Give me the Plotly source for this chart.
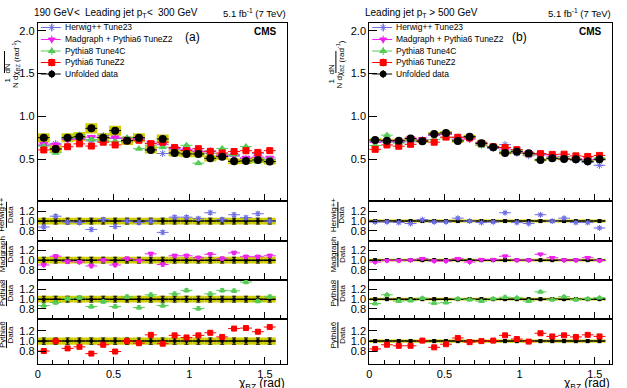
import numpy as np
import plotly.graph_objects as go

W, H = 627, 388

# ---------------- data ----------------
chi_edges = np.linspace(0, np.pi / 2, 21)
chi_centers = 0.5 * (chi_edges[1:] + chi_edges[:-1])
chi_halfwidth = 0.5 * (chi_edges[1] - chi_edges[0])

# (a) 190 GeV < leading jet pT < 300 GeV
data_a = [0.752, 0.620, 0.752, 0.764, 0.861, 0.752, 0.834, 0.717, 0.752, 0.609,
          0.737, 0.574, 0.562, 0.562, 0.511, 0.531, 0.476, 0.480, 0.492, 0.473]
data_a_syst_rel = [0.07, 0.07, 0.07, 0.07, 0.07, 0.07, 0.07, 0.07, 0.07, 0.07,
                   0.07, 0.07, 0.07, 0.07, 0.07, 0.07, 0.07, 0.07, 0.07, 0.07]
data_a_stat_rel = [0.06, 0.06, 0.06, 0.06, 0.06, 0.06, 0.06, 0.06, 0.06, 0.06,
                   0.06, 0.06, 0.06, 0.06, 0.06, 0.06, 0.06, 0.06, 0.06, 0.06]
herwig_a = [0.88, 1.10, 0.98, 0.97, 0.83, 1.03, 0.89, 1.00, 0.97, 1.00,
            0.77, 1.08, 1.08, 1.05, 1.17, 1.03, 1.13, 1.07, 1.15, 1.00]
madgraph_a = [0.90, 1.08, 0.97, 0.96, 0.88, 1.00, 0.90, 1.03, 0.99, 1.13,
              0.91, 1.09, 1.09, 1.05, 1.12, 1.03, 1.15, 1.07, 1.07, 1.09]
pythia8_a = [0.87, 0.93, 1.01, 1.03, 0.85, 0.95, 0.85, 1.05, 0.83, 1.09,
             0.87, 1.11, 1.18, 0.81, 1.11, 1.18, 1.17, 1.35, 0.96, 1.05]
pythia6_a = [0.81, 1.00, 0.86, 0.89, 0.76, 0.93, 0.80, 1.00, 0.96, 1.12,
             0.95, 1.11, 1.07, 1.11, 1.16, 1.08, 1.24, 1.25, 1.18, 1.27]
mc_a_err_rel = [0.035, 0.035, 0.035, 0.035, 0.035, 0.035, 0.035, 0.035, 0.035, 0.035,
                0.035, 0.035, 0.035, 0.035, 0.035, 0.035, 0.035, 0.035, 0.035, 0.035]

# (b) leading jet pT > 500 GeV
data_b = [0.725, 0.717, 0.717, 0.741, 0.710, 0.795, 0.807, 0.714, 0.764, 0.686,
          0.640, 0.574, 0.589, 0.570, 0.492, 0.511, 0.504, 0.500, 0.476, 0.500]
data_b_syst_rel = [0.03, 0.03, 0.03, 0.03, 0.03, 0.03, 0.03, 0.03, 0.03, 0.03,
                   0.03, 0.03, 0.03, 0.03, 0.03, 0.03, 0.03, 0.03, 0.03, 0.03]
data_b_stat_rel = [0.03, 0.03, 0.03, 0.03, 0.03, 0.03, 0.03, 0.03, 0.03, 0.03,
                   0.03, 0.03, 0.03, 0.03, 0.03, 0.03, 0.03, 0.03, 0.03, 0.03]
herwig_b = [0.98, 0.98, 0.97, 0.95, 1.03, 0.98, 0.98, 1.06, 1.00, 0.97,
            0.98, 1.17, 0.97, 0.95, 1.13, 1.00, 1.06, 0.97, 0.97, 0.86]
madgraph_b = [0.96, 0.99, 0.99, 1.00, 1.03, 0.98, 0.98, 1.03, 0.96, 1.01,
              1.01, 1.08, 1.00, 1.00, 1.12, 1.05, 1.00, 1.00, 1.05, 0.99]
pythia8_b = [0.91, 1.09, 0.96, 0.97, 1.02, 0.92, 0.93, 1.01, 0.99, 0.96,
             1.01, 1.04, 1.03, 0.96, 1.15, 0.99, 1.05, 0.99, 1.01, 1.03]
pythia6_b = [0.85, 0.93, 0.91, 0.91, 1.01, 0.88, 0.94, 1.06, 0.98, 1.00,
             1.01, 1.11, 1.04, 0.99, 1.15, 1.09, 1.11, 1.08, 1.12, 1.09]
mc_b_err_rel = [0.025, 0.025, 0.025, 0.025, 0.025, 0.025, 0.025, 0.025, 0.025, 0.025,
                0.025, 0.025, 0.025, 0.025, 0.025, 0.025, 0.025, 0.025, 0.025, 0.025]

mc_names = ["Herwig++ Tune23", "Madgraph + Pythia6 TuneZ2", "Pythia8 Tune4C", "Pythia6 TuneZ2"]
ratio_labels = [("Herwig++", "Data"), ("Madgraph", "Data"), ("Pythia8", "Data"), ("Pythia6", "Data")]
main_y_ticks = [0.5, 1.0, 1.5, 2.0]
ratio_y_ticks = [0.8, 1.0, 1.2]

# header pieces: (text, x pixel, anchor)
header_a = [("190 GeV", 29, "left"), ("&lt;", 74.5, "center"),
            ("Leading jet p<sub>T</sub>", 80, "left"), ("&lt;", 147.5, "center"),
            ("300 GeV", 153.5, "left")]
header_b = [("Leading jet p<sub>T</sub> &gt; 500 GeV", 362, "left")]

# ---------------- styles ----------------
FONT = "Liberation Sans, Arial, sans-serif"
YELLOW = "#cccc00"
mc_styles = [
    dict(color="#6f6fe6", symbol="asterisk-open", size=6, rsize=5, lsize=6),
    dict(color="#ee22ee", symbol="triangle-down", size=7, rsize=5, lsize=6),
    dict(color="#55cc55", symbol="triangle-up", size=6, rsize=5, lsize=6),
    dict(color="#ff0000", symbol="square", size=6, rsize=5, lsize=6),
]
data_style = dict(color="black", symbol="circle", size=8, rsize=4, lsize=6)


def marker_of(st, size):
    return dict(symbol=st["symbol"], size=size, color=st["color"],
                line=dict(width=1, color=st["color"]))


def xp(px):
    return px / W


def yp(py):
    return 1 - py / H


def ax_id(n):
    return "" if n == 1 else str(n)


panels = [
    dict(x0=35, x1=285, xr=[0, 1.643], data=data_a, syst=data_a_syst_rel, stat=data_a_stat_rel,
         mcs=[herwig_a, madgraph_a, pythia8_a, pythia6_a], mcerr=mc_a_err_rel,
         header=header_a, tag="(a)"),
    dict(x0=368, x1=612, xr=[0, 1.615], data=data_b, syst=data_b_syst_rel, stat=data_b_stat_rel,
         mcs=[herwig_b, madgraph_b, pythia8_b, pythia6_b], mcerr=mc_b_err_rel,
         header=header_b, tag="(b)"),
]
rows = [(22.7, 201.0), (201.0, 240.7), (240.7, 279.6), (279.6, 318.7), (318.7, 363.5)]
row_ranges = [[0.0135, 2.093], [0.6, 1.41], [0.6, 1.40], [0.6, 1.40], [0.57, 1.43]]

fig = go.Figure()
layout = dict(width=W, height=H, margin=dict(l=0, r=0, t=0, b=0),
              paper_bgcolor="white", plot_bgcolor="rgba(0,0,0,0)", showlegend=False,
              barmode="overlay", font=dict(family=FONT, size=11, color="black"))
annotations = []
shapes = []

n = 0
for p in panels:
    data = np.array(p["data"])
    for k, (top, bot) in enumerate(rows):
        n += 1
        sid = ax_id(n)
        xa, ya = "x" + sid, "y" + sid
        last = k == 4
        layout["xaxis" + sid] = dict(
            domain=[xp(p["x0"]), xp(p["x1"])], range=p["xr"], anchor=ya,
            showline=True, mirror=True, linecolor="black", linewidth=1,
            tickmode="linear", tick0=0, dtick=0.5,
            ticks="inside", ticklen=7, tickcolor="black", tickwidth=1,
            showticklabels=last, showgrid=False, zeroline=False,
            tickfont=dict(size=11),
            minor=dict(ticks="inside", ticklen=3.5, dtick=0.1, tickcolor="black", showgrid=False),
        )
        layout["yaxis" + sid] = dict(
            domain=[yp(bot), yp(top)], range=row_ranges[k], anchor=xa,
            showline=True, mirror=True, linecolor="black", linewidth=1,
            ticks="inside", ticklen=8, tickcolor="black", tickwidth=1,
            tickmode="array", tickvals=main_y_ticks if k == 0 else ratio_y_ticks, tickformat=".1f",
            showgrid=False, zeroline=False, tickfont=dict(size=11),
        )
        syst = np.array(p["syst"])
        stat = np.array(p["stat"])
        if k == 0:
            fig.add_trace(go.Bar(x=chi_centers.tolist(), y=(2 * syst * data).tolist(),
                                 base=(data - syst * data).tolist(),
                                 width=2 * chi_halfwidth, marker=dict(color=YELLOW, line=dict(width=0)),
                                 xaxis=xa, yaxis=ya, hoverinfo="skip"))
            for mc, st in zip(p["mcs"], mc_styles):
                vals = np.array(mc) * data
                fig.add_trace(go.Scatter(
                    x=chi_centers.tolist(), y=vals.tolist(), mode="markers",
                    marker=marker_of(st, st["size"]),
                    error_x=dict(type="constant", value=chi_halfwidth, width=0, thickness=1, color=st["color"]),
                    error_y=dict(type="data", array=(vals * np.array(p["mcerr"])).tolist(), width=0,
                                 thickness=1, color=st["color"]),
                    xaxis=xa, yaxis=ya))
            fig.add_trace(go.Scatter(
                x=chi_centers.tolist(), y=data.tolist(), mode="markers",
                marker=dict(symbol="circle", size=data_style["size"], color="black"),
                error_x=dict(type="constant", value=chi_halfwidth, width=0, thickness=1, color="black"),
                error_y=dict(type="data", array=(stat * data * 0.7).tolist(), width=0, thickness=1, color="black"),
                xaxis=xa, yaxis=ya))
        else:
            ones = np.ones_like(data)
            fig.add_trace(go.Bar(x=chi_centers.tolist(), y=(2 * syst).tolist(), base=(ones - syst).tolist(),
                                 width=2 * chi_halfwidth, marker=dict(color=YELLOW, line=dict(width=0)),
                                 xaxis=xa, yaxis=ya, hoverinfo="skip"))
            fig.add_trace(go.Scatter(
                x=chi_centers.tolist(), y=ones.tolist(), mode="markers",
                marker=dict(symbol="circle", size=data_style["rsize"], color="black"),
                error_x=dict(type="constant", value=chi_halfwidth, width=0, thickness=1.5, color="black"),
                error_y=dict(type="data", array=stat.tolist(), width=2, thickness=1, color="black"),
                xaxis=xa, yaxis=ya))
            st = mc_styles[k - 1]
            r = np.array(p["mcs"][k - 1])
            fig.add_trace(go.Scatter(
                x=chi_centers.tolist(), y=r.tolist(), mode="markers",
                marker=marker_of(st, st["rsize"]),
                error_x=dict(type="constant", value=chi_halfwidth, width=0, thickness=1, color=st["color"]),
                error_y=dict(type="data", array=list(p["mcerr"]), width=2, thickness=1, color=st["color"]),
                xaxis=xa, yaxis=ya))
            # ratio axis title: numerator / bar / denominator (rotated)
            num, den = ratio_labels[k - 1]
            cy = 0.5 * (top + bot) - 6
            annotations.append(dict(x=xp(p["x0"] - 36), y=yp(cy), xref="paper", yref="paper",
                                    text=num, textangle=-90, showarrow=False,
                                    font=dict(size=8), xanchor="center", yanchor="middle"))
            annotations.append(dict(x=xp(p["x0"] - 27.5), y=yp(cy), xref="paper", yref="paper",
                                    text=den, textangle=-90, showarrow=False,
                                    font=dict(size=8), xanchor="center", yanchor="middle"))
            shapes.append(dict(type="line", xref="paper", yref="paper",
                               x0=xp(p["x0"] - 31.5), x1=xp(p["x0"] - 31.5),
                               y0=yp(cy - 13), y1=yp(cy + 13), line=dict(color="black", width=1)))

    x0 = p["x0"]
    # main y-axis title
    annotations.append(dict(x=xp(x0 - 37.5), y=yp(62), xref="paper", yref="paper", text="1  dN",
                            textangle=-90, showarrow=False, font=dict(size=8)))
    annotations.append(dict(x=xp(x0 - 29), y=yp(62), xref="paper", yref="paper", text="N dχ<sub>BZ</sub>",
                            textangle=-90, showarrow=False, font=dict(size=8)))
    annotations.append(dict(x=xp(x0 - 29), y=yp(38), xref="paper", yref="paper", text="(rad<sup>-1</sup>)",
                            textangle=-90, showarrow=False, font=dict(size=8)))
    shapes.append(dict(type="line", xref="paper", yref="paper", x0=xp(x0 - 33.5), x1=xp(x0 - 33.5),
                       y0=yp(51), y1=yp(73), line=dict(color="black", width=1)))
    # header texts
    for txt, hx, anc in p["header"]:
        annotations.append(dict(x=xp(hx), y=yp(12.7), xref="paper", yref="paper", text=txt,
                                showarrow=False, xanchor=anc, align=anc, yanchor="middle",
                                font=dict(size=10)))
    annotations.append(dict(x=xp(p["x1"] + 1), y=yp(12.7), xref="paper", yref="paper",
                            text="5.1 fb<sup>-1</sup> (7 TeV)",
                            showarrow=False, xanchor="right", align="right", yanchor="middle",
                            font=dict(size=9.5)))
    annotations.append(dict(x=xp(x0 + 0.62 * (p["x1"] - x0)), y=yp(37), xref="paper", yref="paper",
                            text=p["tag"], showarrow=False, xanchor="center", yanchor="middle",
                            font=dict(size=12)))
    annotations.append(dict(x=xp(p["x1"] - 8), y=yp(31.5), xref="paper", yref="paper",
                            text="<b>CMS</b>", showarrow=False, xanchor="right", yanchor="middle",
                            font=dict(size=10)))
    # x-axis title
    annotations.append(dict(x=xp(p["x1"]), y=yp(383.5), xref="paper", yref="paper",
                            text="χ<sub>BZ</sub> (rad)", showarrow=False, xanchor="right", yanchor="middle",
                            font=dict(size=12)))
    # legend (text)
    leg_y = [27.5, 39.5, 51.0, 62.5, 74.0]
    for name, ly in zip(mc_names + ["Unfolded data"], leg_y):
        annotations.append(dict(x=xp(x0 + 25), y=yp(ly), xref="paper", yref="paper", text=name,
                                showarrow=False, xanchor="left", align="left", yanchor="middle",
                                font=dict(size=8.5)))

# legend symbols on a pixel-coordinate overlay axis
n += 1
sid = ax_id(n)
layout["xaxis" + sid] = dict(domain=[0, 1], range=[0, W], visible=False, anchor="y" + sid)
layout["yaxis" + sid] = dict(domain=[0, 1], range=[H, 0], visible=False, anchor="x" + sid)
leg_y = [27.5, 39.5, 51.0, 62.5, 74.0]
leg_styles = mc_styles + [data_style]
for p in panels:
    x0 = p["x0"]
    for st, ly in zip(leg_styles, leg_y):
        fig.add_trace(go.Scatter(x=[x0 + 3, x0 + 23], y=[ly, ly], mode="lines",
                                 line=dict(color=st["color"], width=1),
                                 xaxis="x" + sid, yaxis="y" + sid, hoverinfo="skip"))
        fig.add_trace(go.Scatter(x=[x0 + 14], y=[ly], mode="markers",
                                 marker=marker_of(st, st["lsize"]),
                                 error_y=dict(type="constant", value=4, width=0, thickness=1, color=st["color"]),
                                 xaxis="x" + sid, yaxis="y" + sid, hoverinfo="skip"))

layout["annotations"] = annotations
layout["shapes"] = shapes
fig.update_layout(**layout)
fig.write_html("out.html")
